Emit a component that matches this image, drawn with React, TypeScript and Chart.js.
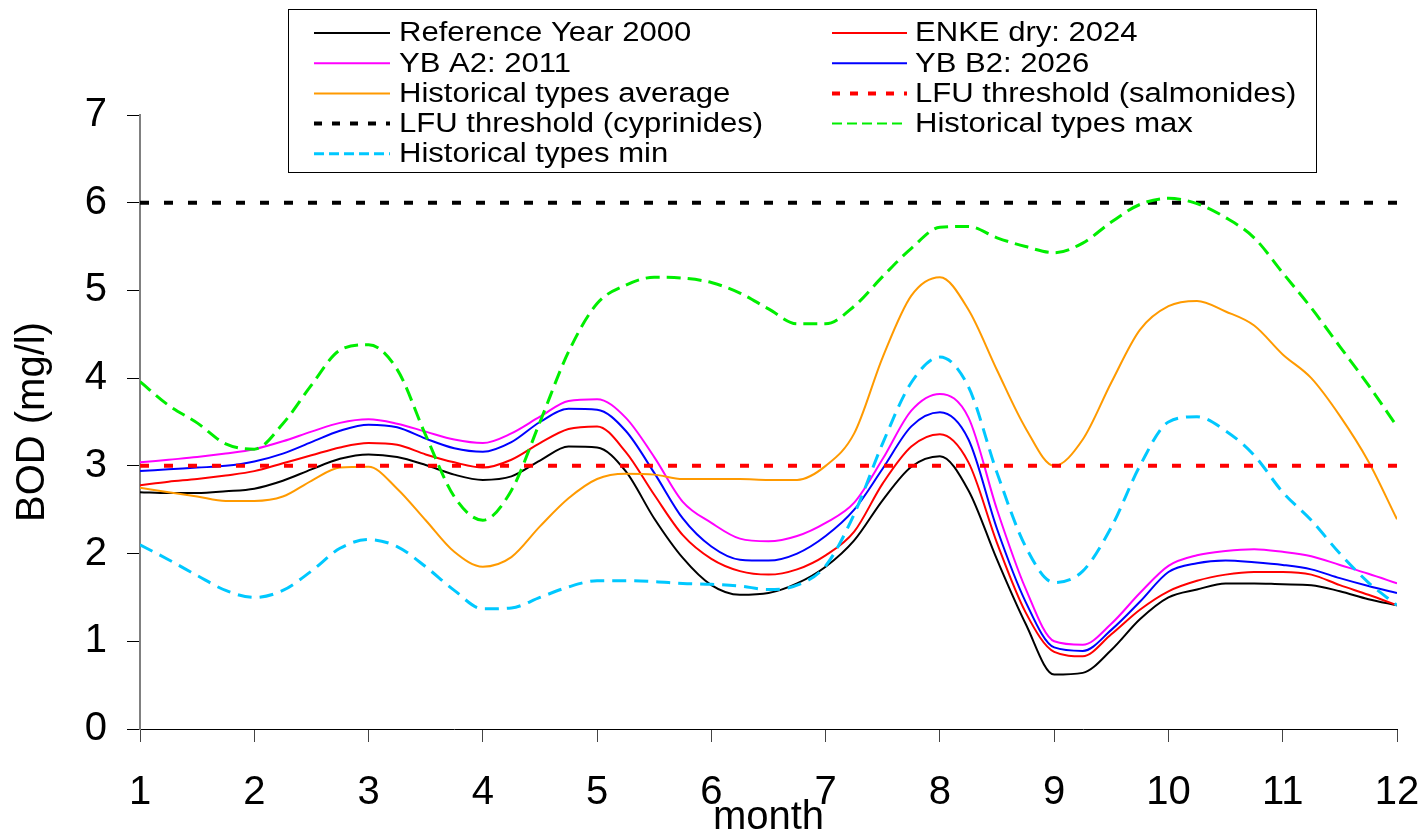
import React, { useEffect, useRef } from "react";
import { Chart, registerables } from "chart.js";

Chart.register(...registerables);

const MONTHS = [
  1, 1.25, 1.5, 1.75, 2, 2.25, 2.5, 2.75, 3, 3.25, 3.5, 3.75, 4, 4.25, 4.5, 4.75,
  5, 5.25, 5.5, 5.75, 6, 6.25, 6.5, 6.75, 7, 7.25, 7.5, 7.75, 8, 8.25, 8.5, 8.75,
  9, 9.25, 9.5, 9.75, 10, 10.25, 10.5, 10.75, 11, 11.25, 11.5, 11.75, 12,
];

const REFERENCE_2000 = [
  2.7, 2.69, 2.69, 2.71, 2.74, 2.83, 2.96, 3.08, 3.13, 3.1, 3.01, 2.9, 2.84, 2.88, 3.06, 3.22,
  3.21, 2.94, 2.4, 1.95, 1.64, 1.53, 1.55, 1.66, 1.85, 2.15, 2.61, 2.99, 3.11, 2.72, 1.93, 1.2,
  0.62, 0.64, 0.9, 1.25, 1.5, 1.59, 1.66, 1.66, 1.65, 1.64, 1.57, 1.48, 1.41,
];

const ENKE_DRY_2024 = [
  2.78, 2.82, 2.85, 2.89, 2.94, 3.03, 3.12, 3.21, 3.26, 3.24, 3.13, 3.04, 2.98, 3.07, 3.26, 3.42,
  3.45, 3.16, 2.67, 2.21, 1.94, 1.8, 1.76, 1.82, 1.98, 2.25, 2.8, 3.22, 3.36, 3.04, 2.12, 1.33,
  0.88, 0.83, 1.08, 1.36, 1.57, 1.69, 1.76, 1.79, 1.79, 1.76, 1.64, 1.53, 1.41,
];

const YB_A2_2011 = [
  3.04, 3.07, 3.1, 3.14, 3.19, 3.28, 3.39, 3.49, 3.53, 3.48, 3.39, 3.3, 3.26, 3.37, 3.56, 3.74,
  3.76, 3.55, 3.1, 2.59, 2.35, 2.17, 2.14, 2.2, 2.35, 2.58, 3.08, 3.63, 3.82, 3.55, 2.5, 1.6,
  1.0, 0.96, 1.2, 1.55, 1.86, 1.98, 2.03, 2.05, 2.02, 1.97, 1.87, 1.77, 1.66,
];

const YB_B2_2026 = [
  2.94, 2.96, 2.98, 3.0, 3.05, 3.14, 3.27, 3.4, 3.47, 3.44, 3.31, 3.2, 3.16, 3.27, 3.5, 3.65,
  3.64, 3.4, 2.92, 2.4, 2.08, 1.93, 1.92, 2.0, 2.2, 2.5, 2.97, 3.45, 3.61, 3.3, 2.28, 1.45,
  0.93, 0.89, 1.13, 1.45, 1.79, 1.89, 1.92, 1.9, 1.87, 1.82, 1.72, 1.63, 1.55,
];

const HIST_AVERAGE = [
  2.75, 2.7, 2.65, 2.6, 2.6, 2.65, 2.83, 2.98, 2.99, 2.74, 2.38, 2.02, 1.85, 1.96, 2.31, 2.63,
  2.85, 2.91, 2.9, 2.85, 2.85, 2.85, 2.84, 2.84, 3.0, 3.37, 4.24, 4.94, 5.15, 4.78, 4.09, 3.43,
  3.0, 3.3, 3.95, 4.55, 4.82, 4.88, 4.76, 4.6, 4.27, 4.0, 3.57, 3.05, 2.39,
];

const HIST_MAX = [
  3.96, 3.69, 3.49, 3.25, 3.19, 3.48, 3.92, 4.32, 4.38, 4.1, 3.35, 2.65, 2.38, 2.72, 3.5, 4.3,
  4.85, 5.06, 5.15, 5.14, 5.09, 4.97, 4.79, 4.62, 4.62, 4.82, 5.16, 5.48, 5.72, 5.73, 5.6, 5.5,
  5.43, 5.54, 5.78, 5.98, 6.05, 5.99, 5.83, 5.6, 5.2, 4.8, 4.36, 3.92, 3.45,
];

const HIST_MIN = [
  2.1, 1.93, 1.75, 1.58, 1.5, 1.58, 1.8, 2.06, 2.16, 2.08, 1.85, 1.58, 1.37, 1.38, 1.5, 1.62,
  1.69, 1.69, 1.68, 1.66, 1.65, 1.63, 1.59, 1.64, 1.86, 2.45, 3.26, 3.95, 4.24, 3.9, 2.92, 2.08,
  1.67, 1.8, 2.3, 3.0, 3.5, 3.56, 3.4, 3.12, 2.7, 2.38, 2.0, 1.67, 1.41,
];

const THRESHOLD_MONTHS = [1, 12];
const LFU_SALMONIDES = [3, 3];
const LFU_CYPRINIDES = [6, 6];

const X_TICKS = [1, 2, 3, 4, 5, 6, 7, 8, 9, 10, 11, 12];
const Y_TICKS = [0, 1, 2, 3, 4, 5, 6, 7];

const FONT = "'Liberation Sans', Arial, Helvetica, sans-serif";

type Series = {
  label: string;
  xs: number[];
  ys: number[];
  color: string;
  width: number;
  dash: number[];
  legendDash: number[];
  legendWidth: number;
};

const SERIES: Series[] = [
  { label: "Reference Year 2000", xs: MONTHS, ys: REFERENCE_2000, color: "#000000", width: 2, dash: [], legendDash: [], legendWidth: 2 },
  { label: "ENKE dry: 2024", xs: MONTHS, ys: ENKE_DRY_2024, color: "#ff0000", width: 2, dash: [], legendDash: [], legendWidth: 2 },
  { label: "YB A2: 2011", xs: MONTHS, ys: YB_A2_2011, color: "#ff00ff", width: 2, dash: [], legendDash: [], legendWidth: 2 },
  { label: "YB B2: 2026", xs: MONTHS, ys: YB_B2_2026, color: "#0000ff", width: 2, dash: [], legendDash: [], legendWidth: 2 },
  { label: "Historical types average", xs: MONTHS, ys: HIST_AVERAGE, color: "#ff9a00", width: 2, dash: [], legendDash: [], legendWidth: 2 },
  { label: "LFU threshold (salmonides)", xs: THRESHOLD_MONTHS, ys: LFU_SALMONIDES, color: "#ff0000", width: 4, dash: [9, 15], legendDash: [8, 10], legendWidth: 4 },
  { label: "LFU threshold (cyprinides)", xs: THRESHOLD_MONTHS, ys: LFU_CYPRINIDES, color: "#000000", width: 4, dash: [9, 15], legendDash: [8, 10], legendWidth: 4 },
  { label: "Historical types max", xs: MONTHS, ys: HIST_MAX, color: "#00ee00", width: 3, dash: [14, 7], legendDash: [10, 5], legendWidth: 2 },
  { label: "Historical types min", xs: MONTHS, ys: HIST_MIN, color: "#00c8ff", width: 3, dash: [14, 8], legendDash: [10, 5], legendWidth: 3 },
];

const legendPlugin = {
  id: "boxLegend",
  afterDraw(chart: any) {
    const ctx = chart.ctx as CanvasRenderingContext2D;
    ctx.save();
    const bx = 288.5, by = 9.5, bw = 1028, bh = 163;
    ctx.fillStyle = "#ffffff";
    ctx.fillRect(bx, by, bw, bh);
    ctx.strokeStyle = "#000000";
    ctx.lineWidth = 1;
    ctx.setLineDash([]);
    ctx.strokeRect(bx, by, bw, bh);
    const colLine = [[314, 390], [832, 907]];
    const colText = [399, 915];
    const row0 = 33, rowH = 30.2;
    SERIES.forEach((s, i) => {
      const col = i % 2;
      const row = Math.floor(i / 2);
      const y = row0 + row * rowH;
      ctx.beginPath();
      ctx.strokeStyle = s.color;
      ctx.lineWidth = s.legendWidth;
      ctx.setLineDash(s.legendDash);
      ctx.moveTo(colLine[col][0], y);
      ctx.lineTo(colLine[col][1], y);
      ctx.stroke();
      ctx.setLineDash([]);
      ctx.save();
      ctx.translate(colText[col], y + 1);
      ctx.scale(1.15, 1);
      ctx.fillStyle = "#000000";
      ctx.font = `27px ${FONT}`;
      ctx.textBaseline = "middle";
      ctx.textAlign = "left";
      ctx.fillText(s.label, 0, 0);
      ctx.restore();
    });
    ctx.restore();
  },
};

export default function App() {
  const ref = useRef<HTMLCanvasElement | null>(null);

  useEffect(() => {
    if (!ref.current) return;
    const datasets = SERIES.map((s, i) => ({
      label: s.label,
      data: s.xs.map((x, j) => ({ x, y: s.ys[j] })),
      borderColor: s.color,
      backgroundColor: s.color,
      borderWidth: s.width,
      borderDash: s.dash,
      pointRadius: 0,
      pointHoverRadius: 0,
      fill: false,
      cubicInterpolationMode: "monotone" as const,
      order: SERIES.length - i,
    }));

    const chart = new Chart(ref.current, {
      type: "line",
      data: { datasets },
      plugins: [legendPlugin],
      options: {
        animation: false,
        responsive: false,
        devicePixelRatio: 1,
        events: [],
        layout: { padding: { top: 115, right: 0, left: 0, bottom: 0 } },
        plugins: {
          legend: { display: false },
          tooltip: { enabled: false },
          title: { display: false },
        },
        scales: {
          x: {
            type: "linear",
            min: 1,
            max: 12,
            afterBuildTicks: (scale: any) => {
              scale.ticks = X_TICKS.map((v) => ({ value: v }));
            },
            afterFit: (scale: any) => {
              scale.height = 111;
              scale.paddingRight = 25;
            },
            ticks: {
              autoSkip: false,
              maxRotation: 0,
              padding: 27,
              color: "#000000",
              font: { family: FONT, size: 40, lineHeight: 1.2 },
              callback: (v: any) => String(v),
            },
            grid: {
              display: true,
              drawOnChartArea: false,
              drawTicks: true,
              tickLength: 13,
              tickColor: "#444444",
              tickWidth: 1,
            },
            border: { display: true, color: "#000000", width: 1 },
            title: {
              display: true,
              text: "month",
              color: "#000000",
              font: { family: FONT, size: 40, lineHeight: 1 },
              padding: { top: 0, bottom: 2 },
            },
          },
          y: {
            type: "linear",
            min: 0,
            max: 7,
            afterBuildTicks: (scale: any) => {
              scale.ticks = Y_TICKS.map((v) => ({ value: v }));
            },
            afterFit: (scale: any) => {
              scale.width = 140;
            },
            ticks: {
              padding: 20,
              color: "#000000",
              font: { family: FONT, size: 40, lineHeight: 1.2 },
              callback: (v: any) => String(v),
            },
            grid: {
              display: true,
              drawOnChartArea: false,
              drawTicks: true,
              tickLength: 13,
              tickColor: "#000000",
              tickWidth: 1,
            },
            border: { display: true, color: "#808080", width: 2 },
            title: {
              display: true,
              text: "BOD (mg/l)",
              color: "#000000",
              font: { family: FONT, size: 40, lineHeight: 1 },
              padding: { top: 13, bottom: 0 },
            },
          },
        },
      },
    });
    return () => chart.destroy();
  }, []);

  return (
    <div style={{ position: "fixed", left: 0, top: 0, width: 1422, height: 840, background: "#ffffff" }}>
      <canvas ref={ref} width={1422} height={840} style={{ width: 1422, height: 840, display: "block" }} />
    </div>
  );
}
